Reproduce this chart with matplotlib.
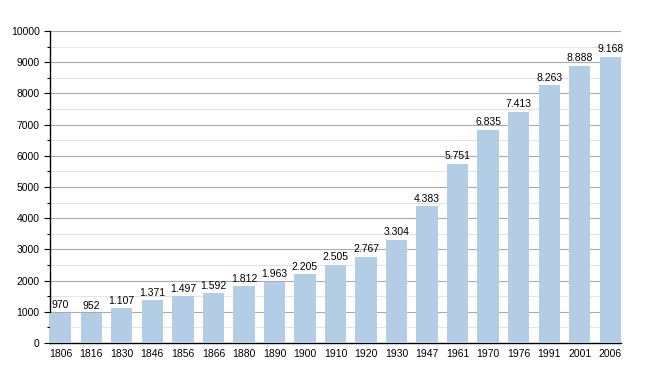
import matplotlib
matplotlib.use("Agg")
import matplotlib.pyplot as plt
from matplotlib.ticker import MultipleLocator

years = ["1806", "1816", "1830", "1846", "1856", "1866", "1880", "1890", "1900", "1910",
         "1920", "1930", "1947", "1961", "1970", "1976", "1991", "2001", "2006"]
population = [970, 952, 1107, 1371, 1497, 1592, 1812, 1963, 2205, 2505,
              2767, 3304, 4383, 5751, 6835, 7413, 8263, 8888, 9168]

plt.rcParams['font.family'] = ['Liberation Sans', 'DejaVu Sans']

fig = plt.figure(figsize=(6.5, 3.73), dpi=100)
ax = fig.add_axes([50/650, 30/373, 571/650, 312/373])

x = list(range(len(years)))
w = 0.7
bars = ax.bar(x, population, width=w, color="#b3cde6", zorder=3)
for xi, v in zip(x, population):
    label = f"{v:,}".replace(",", ".")
    ax.text(xi, v + 80, label, ha="center", va="bottom", fontsize=7.5, zorder=4)

ax.set_xlim(-w/2, len(years) - 1 + w/2)
ax.set_ylim(0, 10000)
ax.set_xticks(x)
ax.set_xticklabels(years, fontsize=7.5)
ax.yaxis.set_major_locator(MultipleLocator(1000))
ax.yaxis.set_minor_locator(MultipleLocator(500))
ax.tick_params(axis="y", which="major", labelsize=7.5, length=4, width=0.8, direction="out")
ax.tick_params(axis="y", which="minor", length=2, width=0.8, direction="out")
ax.tick_params(axis="x", length=0, pad=4)
ax.grid(axis="y", which="major", color="#aaaaaa", linewidth=0.8, zorder=0)
ax.grid(axis="y", which="minor", color="#e3e3e3", linewidth=0.8, zorder=0)
for s in ["top", "right"]:
    ax.spines[s].set_visible(False)
ax.spines["left"].set_linewidth(1.0)
ax.spines["bottom"].set_linewidth(1.0)

fig.savefig("out.png", dpi=100)
